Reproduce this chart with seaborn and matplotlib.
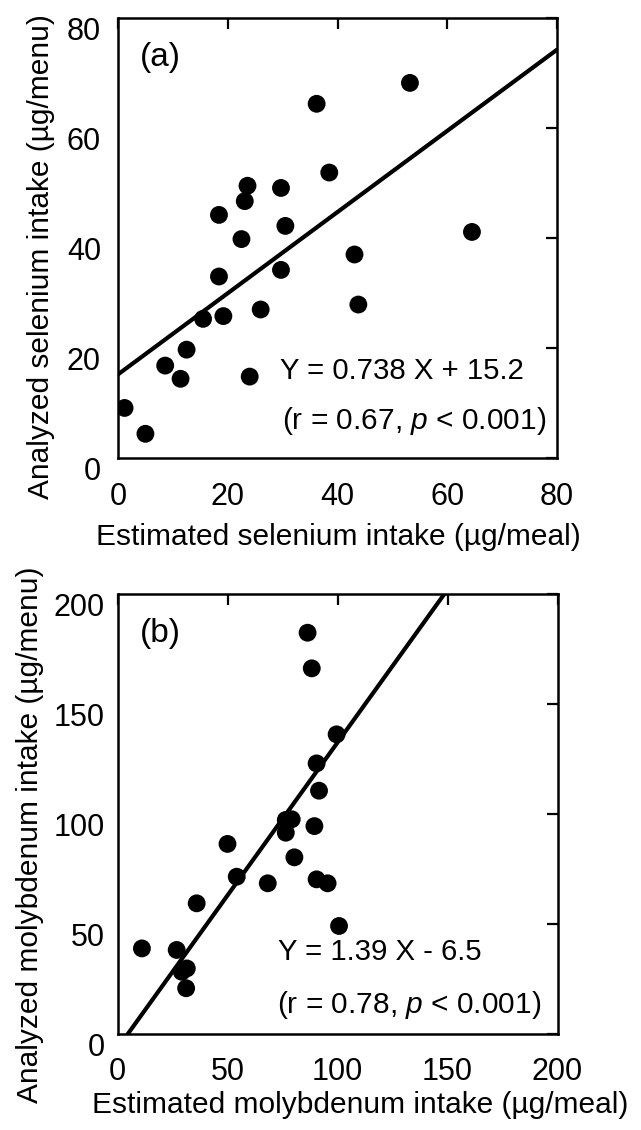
import numpy as np
import pandas as pd
import seaborn as sns
import matplotlib
matplotlib.use("Agg")
import matplotlib.pyplot as plt
import matplotlib.transforms as mtransforms

# ---------------- data ----------------
se_estimated = [1.2, 5.0, 8.6, 11.4, 12.5, 15.5, 19.2, 18.4, 18.4, 22.5, 23.1, 23.6,
                24.0, 26.0, 29.7, 30.5, 29.7, 36.2, 38.5, 43.1, 43.8, 53.2, 64.5]
se_analyzed = [9.1, 4.4, 16.8, 14.4, 19.7, 25.3, 25.8, 44.2, 33.0, 39.8, 46.7, 49.5,
               14.8, 27.0, 49.1, 42.2, 34.2, 64.4, 51.9, 37.0, 27.9, 68.2, 41.1]
se_slope, se_intercept = 0.738, 15.2

mo_estimated = [11.1, 26.9, 29.2, 31.5, 31.2, 36.0, 50.0, 54.2, 68.3, 76.5, 79.2,
                76.5, 80.4, 86.4, 88.3, 89.5, 90.5, 95.5, 90.5, 91.6, 99.6, 100.7]
mo_analyzed = [38.9, 38.2, 28.3, 29.8, 20.8, 59.4, 86.4, 71.5, 68.5, 97.3, 97.6,
               91.5, 80.3, 182.4, 166.2, 94.5, 70.3, 68.5, 123.0, 110.6, 136.2, 49.1]
mo_slope, mo_intercept = 1.39, -6.5

se_ticks = [0, 20, 40, 60, 80]
mo_ticks = [0, 50, 100, 150, 200]

panel_labels = ["(a)", "(b)"]
eq_texts = ["Y = 0.738 X + 15.2", "Y = 1.39 X - 6.5"]
stat_texts = [r"(r = 0.67, $\mathit{p}$ < 0.001)", r"(r = 0.78, $\mathit{p}$ < 0.001)"]
x_labels = ["Estimated selenium intake (\u00b5g/meal)",
            "Estimated molybdenum intake (\u00b5g/meal)"]
y_labels = ["Analyzed selenium intake (\u00b5g/menu)",
            "Analyzed molybdenum intake (\u00b5g/menu)"]

# ---------------- style ----------------
sns.set_theme(style="white")
plt.rcParams['font.family'] = ['Liberation Sans', 'DejaVu Sans']
plt.rcParams['mathtext.fontset'] = 'custom'
plt.rcParams['mathtext.it'] = 'Liberation Sans:italic'
plt.rcParams['mathtext.rm'] = 'Liberation Sans'

W, H = 641, 1130
fig = plt.figure(figsize=(W / 100, H / 100), dpi=100)

def frac(l, t, r, b):
    return [l / W, 1 - b / H, (r - l) / W, (b - t) / H]

ax_a = fig.add_axes(frac(118, 18, 557, 458))
ax_b = fig.add_axes(frac(117.5, 594, 557.5, 1034))

df_se = pd.DataFrame({"est": se_estimated, "ana": se_analyzed})
df_mo = pd.DataFrame({"est": mo_estimated, "ana": mo_analyzed})

panels = [
    (ax_a, df_se, se_slope, se_intercept, se_ticks, 17, 17,
     (0.503, -0.180), (-0.175, 0.457), (0.369, 0.198), (0.374, 0.083)),
    (ax_b, df_mo, mo_slope, mo_intercept, mo_ticks, 13, 16.5,
     (0.551, -0.162), (-0.199, 0.452), (0.365, 0.1875), (0.3625, 0.066)),
]

for i, (ax, df, slope, icpt, ticks, ypad_px, xpad_pt, xl, yl, eqp, stp) in enumerate(panels):
    sns.scatterplot(data=df, x="est", y="ana", ax=ax, s=165, color="black",
                    edgecolor="none", linewidth=0, zorder=3)
    lo, hi = ticks[0], ticks[-1]
    xs = np.array([lo, hi], dtype=float)
    line_df = pd.DataFrame({"est": xs, "ana": slope * xs + icpt})
    sns.lineplot(data=line_df, x="est", y="ana", ax=ax, color="black", lw=3.0,
                 zorder=2)
    ax.set_xlim(lo, hi)
    ax.set_ylim(lo, hi)
    ax.set_xticks(ticks)
    ax.set_yticks(ticks)
    ax.set_xticklabels([str(t) for t in ticks])
    ax.set_yticklabels([str(t) for t in ticks])
    ax.tick_params(axis="both", which="major", direction="in", length=8, width=1.6,
                   top=True, right=True, labelsize=22, colors="black")
    ax.tick_params(axis="x", pad=xpad_pt)
    ax.tick_params(axis="y", pad=ypad_px * 0.72)
    off = mtransforms.ScaledTranslation(0, -10 / 100, fig.dpi_scale_trans)
    for lab in ax.get_yticklabels():
        lab.set_transform(lab.get_transform() + off)
    for sp in ax.spines.values():
        sp.set_visible(True)
        sp.set_color("black")
        sp.set_linewidth(1.8)
    ax.set_xlabel(x_labels[i], fontsize=21.5, color="black")
    ax.set_ylabel(y_labels[i], fontsize=21.5, color="black")
    ax.xaxis.set_label_coords(*xl)
    ax.yaxis.set_label_coords(*yl)
    ax.xaxis.label.set_va("center")
    ax.yaxis.label.set_va("center")
    ax.yaxis.label.set_ha("center")
    ax.text(0.05, 0.91, panel_labels[i], transform=ax.transAxes, fontsize=24,
            ha="left", va="center", color="black")
    ax.text(eqp[0], eqp[1], eq_texts[i], transform=ax.transAxes, fontsize=21.2,
            ha="left", va="center", color="black")
    ax.text(stp[0], stp[1], stat_texts[i], transform=ax.transAxes, fontsize=21.5,
            ha="left", va="center", color="black")

fig.savefig("out.png", dpi=100, facecolor="white")
